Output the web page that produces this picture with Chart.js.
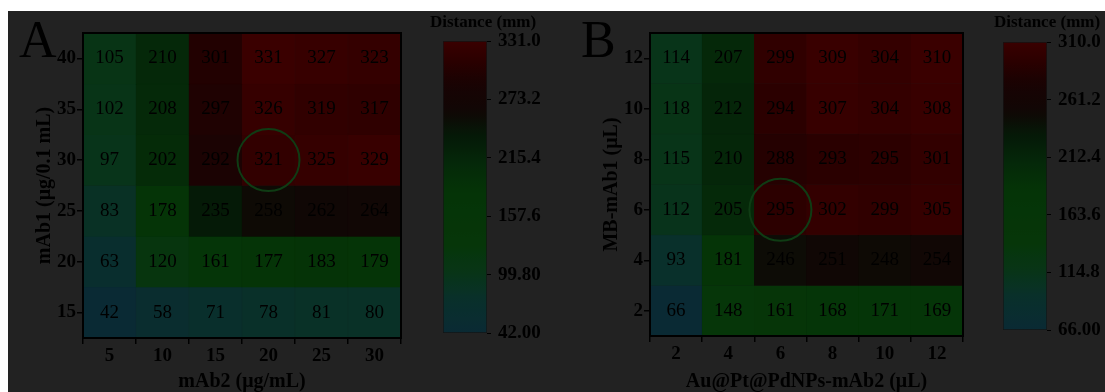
<!DOCTYPE html>
<html>
<head>
<meta charset="utf-8">
<script src="https://cdn.jsdelivr.net/npm/chart.js@4.4.1/dist/chart.umd.min.js"></script>
<style>
  html, body { margin: 0; padding: 0; background: #fff; overflow: hidden; }
  #bg { position: absolute; left: 8px; top: 11px; right: 0; bottom: 0; background: #222; }
  canvas { position: absolute; top: 0; }
</style>
</head>
<body>
<div id="bg"></div>
<canvas id="heatA" width="430" height="392" style="left:0px"></canvas>
<canvas id="barA" width="128" height="392" style="left:430px"></canvas>
<canvas id="heatB" width="430" height="392" style="left:560px"></canvas>
<canvas id="barB" width="115" height="392" style="left:990px"></canvas>
<script>
// panel A
const colsA = ['5', '10', '15', '20', '25', '30'];
const rowsA = [40, 35, 30, 25, 20, 15];
const valuesA = [
  [105, 210, 301, 331, 327, 323],
  [102, 208, 297, 326, 319, 317],
  [97, 202, 292, 321, 325, 329],
  [83, 178, 235, 258, 262, 264],
  [63, 120, 161, 177, 183, 179],
  [42, 58, 71, 78, 81, 80]
];
const ticksBarA = [42, 99.8, 157.6, 215.4, 273.2, 331];

// panel B
const colsB = ['2', '4', '6', '8', '10', '12'];
const rowsB = [12, 10, 8, 6, 4, 2];
const valuesB = [
  [114, 207, 299, 309, 304, 310],
  [118, 212, 294, 307, 304, 308],
  [115, 210, 288, 293, 295, 301],
  [112, 205, 295, 302, 299, 305],
  [93, 181, 246, 251, 248, 254],
  [66, 148, 161, 168, 171, 169]
];
const ticksBarB = [66, 114.8, 163.6, 212.4, 261.2, 310];

const FONT = '"Liberation Serif", "Times New Roman", serif';

// dark teal -> green -> black -> red
const stops = [
  [0.00, [10, 42, 52]],
  [0.12, [9, 48, 42]],
  [0.20, [8, 52, 24]],
  [0.30, [6, 54, 9]],
  [0.48, [5, 52, 7]],
  [0.58, [5, 40, 9]],
  [0.68, [5, 24, 7]],
  [0.76, [16, 7, 5]],
  [0.86, [26, 3, 3]],
  [0.93, [42, 0, 0]],
  [1.00, [58, 0, 0]]
];

function colorAt(t) {
  t = Math.max(0, Math.min(1, t));
  for (let i = 1; i < stops.length; i++) {
    if (t <= stops[i][0]) {
      const [t0, c0] = stops[i - 1];
      const [t1, c1] = stops[i];
      const f = (t - t0) / (t1 - t0);
      const c = c0.map((v, k) => Math.round(v + (c1[k] - v) * f));
      return `rgb(${c[0]},${c[1]},${c[2]})`;
    }
  }
  return 'rgb(58,0,0)';
}

function makeHeatmap(id, opts) {
  const { cols, rows, values, min, max, mark, letter, letterX, xTitle, yTitle, pad, yMin, yMax } = opts;
  const step = rows[0] - rows[1];

  const datasets = rows.map((r, j) => ({
    data: values[j].map(() => [r - step / 2, r + step / 2]),
    backgroundColor: values[j].map(v => colorAt((v - min) / (max - min))),
    borderColor: values[j].map(v => colorAt((v - min) / (max - min))),
    borderWidth: 0.5,
    borderSkipped: false,
    barPercentage: 1,
    categoryPercentage: 1,
    grouped: false
  }));

  const overlay = {
    id: 'overlay',
    afterDatasetsDraw(chart) {
      const { ctx, chartArea: a, scales: { x, y } } = chart;
      ctx.save();
      ctx.fillStyle = '#000';
      ctx.font = `19px ${FONT}`;
      ctx.textAlign = 'center';
      ctx.textBaseline = 'middle';
      rows.forEach((r, j) => {
        values[j].forEach((v, i) => {
          ctx.fillText(String(v), x.getPixelForValue(i), y.getPixelForValue(r));
        });
      });
      // optimal point ring
      ctx.strokeStyle = '#0f3c14';
      ctx.lineWidth = 2;
      ctx.beginPath();
      ctx.arc(x.getPixelForValue(cols.indexOf(mark.col)), y.getPixelForValue(mark.row), 31, 0, Math.PI * 2);
      ctx.stroke();
      // frame
      ctx.strokeStyle = '#000';
      ctx.lineWidth = 2;
      ctx.strokeRect(a.left, a.top, a.width, a.height);
      // panel letter
      ctx.font = `52px ${FONT}`;
      ctx.textAlign = 'left';
      ctx.textBaseline = 'alphabetic';
      ctx.fillText(letter, letterX, 57);
      ctx.restore();
    }
  };

  const tickFont = { family: FONT, size: 19, weight: 'bold' };
  const titleFont = { family: FONT, size: 20, weight: 'bold', lineHeight: 1 };

  return new Chart(document.getElementById(id), {
    type: 'bar',
    data: { labels: cols, datasets },
    options: {
      responsive: false,
      animation: false,
      layout: { padding: pad },
      plugins: { legend: { display: false }, tooltip: { enabled: false } },
      scales: {
        x: {
          type: 'category',
          offset: true,
          grid: { display: true, drawOnChartArea: false, drawTicks: true, tickLength: 6, color: '#000', lineWidth: 1.5 },
          border: { display: false },
          ticks: { font: tickFont, color: '#000', padding: 1, maxRotation: 0, autoSkip: false },
          title: { display: true, text: xTitle, font: titleFont, color: '#000', padding: { top: 0, bottom: 0 } },
          afterFit: s => { s.height = opts.xAxisH; }
        },
        y: {
          type: 'linear',
          min: yMin,
          max: yMax,
          afterBuildTicks: s => { s.ticks = rows.map(v => ({ value: v })); },
          grid: { display: true, drawOnChartArea: false, drawTicks: true, tickLength: 6, color: '#000', lineWidth: 1.5 },
          border: { display: false },
          ticks: { font: tickFont, color: '#000', padding: 1 },
          title: { display: true, text: yTitle, font: titleFont, color: '#000', padding: { top: 0, bottom: 0 } },
          afterFit: s => { s.width = 48; }
        }
      }
    },
    plugins: [overlay]
  });
}

function makeColorbar(id, opts) {
  const { min, max, ticks, pad, axisW, titleX } = opts;

  const gradient = (chart) => {
    const y = chart.scales.y;
    if (!chart.chartArea || !y) return colorAt(0.5);
    const g = chart.ctx.createLinearGradient(0, y.getPixelForValue(min), 0, y.getPixelForValue(max));
    for (let i = 0; i <= 40; i++) g.addColorStop(i / 40, colorAt(i / 40));
    return g;
  };

  const heading = {
    id: 'heading',
    afterDraw(chart) {
      const { ctx } = chart;
      ctx.save();
      ctx.fillStyle = '#000';
      ctx.font = `bold 17px ${FONT}`;
      ctx.textAlign = 'center';
      ctx.textBaseline = 'middle';
      ctx.fillText('Distance (mm)', titleX, 23);
      ctx.restore();
    }
  };

  return new Chart(document.getElementById(id), {
    type: 'bar',
    data: {
      labels: [''],
      datasets: [{
        data: [[min, max]],
        backgroundColor: c => gradient(c.chart),
        borderColor: '#141414',
        borderWidth: 1,
        borderSkipped: false,
        barPercentage: 1,
        categoryPercentage: 1
      }]
    },
    options: {
      responsive: false,
      animation: false,
      layout: { padding: pad },
      plugins: { legend: { display: false }, tooltip: { enabled: false } },
      scales: {
        x: { display: false },
        y: {
          position: 'right',
          min,
          max,
          afterBuildTicks: s => { s.ticks = ticks.map(v => ({ value: v })); },
          grid: { display: true, drawOnChartArea: false, drawTicks: true, tickLength: 4, color: '#000' },
          border: { display: false },
          ticks: {
            font: { family: FONT, size: 19, weight: 'bold' },
            color: '#000',
            padding: 7,
            callback: v => Number(v).toPrecision(4)
          },
          afterFit: s => { s.width = axisW; }
        }
      }
    },
    plugins: [heading]
  });
}

makeHeatmap('heatA', {
  cols: colsA, rows: rowsA, values: valuesA, min: 42, max: 331,
  yMin: 12.5, yMax: 42.5,
  mark: { col: '20', row: 30 }, letter: 'A', letterX: 19,
  xTitle: 'mAb2 (μg/mL)', yTitle: 'mAb1 (μg/0.1 mL)',
  pad: { left: 35, top: 33, right: 29, bottom: 0 }, xAxisH: 54
});

makeColorbar('barA', {
  min: 42, max: 331, ticks: ticksBarA,
  pad: { left: 13, top: 41, right: 0, bottom: 59 }, axisW: 71, titleX: 53
});

makeHeatmap('heatB', {
  cols: colsB, rows: rowsB, values: valuesB, min: 66, max: 310,
  yMin: 1, yMax: 13,
  mark: { col: '6', row: 6 }, letter: 'B', letterX: 21,
  xTitle: 'Au@Pt@PdNPs-mAb2 (μL)', yTitle: 'MB-mAb1 (μL)',
  pad: { left: 42, top: 33, right: 27, bottom: 0 }, xAxisH: 56
});

makeColorbar('barB', {
  min: 66, max: 310, ticks: ticksBarB,
  pad: { left: 13, top: 42, right: 0, bottom: 62 }, axisW: 58, titleX: 57
});
</script>
</body>
</html>
